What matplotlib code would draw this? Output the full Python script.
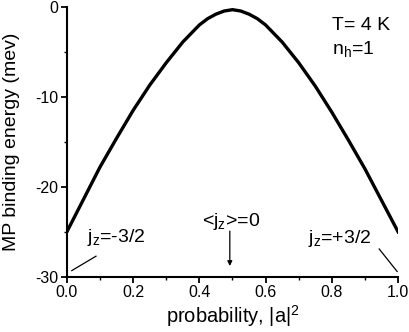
import numpy as np
import matplotlib
matplotlib.use("Agg")
import matplotlib.pyplot as plt
from matplotlib.ticker import MultipleLocator, FormatStrFormatter

plt.rcParams['font.family'] = ['Liberation Sans', 'DejaVu Sans']
plt.rcParams['axes.unicode_minus'] = False

# values
prob = [0.0, 0.05, 0.1, 0.15, 0.2, 0.25, 0.3, 0.35, 0.4, 0.425, 0.45, 0.475, 0.5,
        0.525, 0.55, 0.575, 0.6, 0.65, 0.7, 0.75, 0.8, 0.85, 0.9, 0.95, 1.0]
energy = [-25.0, -21.4, -17.8, -14.6, -11.5, -8.7, -6.2, -3.9, -2.0, -1.3, -0.8, -0.45, -0.3,
          -0.45, -0.8, -1.3, -2.0, -3.9, -6.2, -8.8, -11.7, -14.8, -18.0, -21.5, -25.0]

fig = plt.figure(figsize=(4.10, 3.32), dpi=100)
ax = fig.add_axes([0.163, 0.166, 0.808, 0.813])

ax.plot(prob, energy, color='black', lw=2.4, solid_joinstyle='round')

ax.set_xlim(0, 1)
ax.set_ylim(-30, 0)
ax.xaxis.set_major_locator(MultipleLocator(0.2))
ax.xaxis.set_minor_locator(MultipleLocator(0.1))
ax.yaxis.set_major_locator(MultipleLocator(10))
ax.yaxis.set_minor_locator(MultipleLocator(5))
ax.xaxis.set_major_formatter(FormatStrFormatter('%.1f'))

for s in ['top', 'right']:
    ax.spines[s].set_visible(False)
for s in ['left', 'bottom']:
    ax.spines[s].set_linewidth(1.5)
ax.tick_params(which='major', direction='out', length=4, width=1.3, labelsize=11.5, pad=2)
ax.tick_params(which='minor', direction='out', length=2.5, width=1.0)

ax.set_xlabel('probability, |a|$^\\mathregular{2}$', fontsize=14.5, labelpad=2)
ax.set_ylabel('MP binding energy (mev)', fontsize=14)
ax.yaxis.set_label_coords(-0.14, 0.5)

ax.text(0.80, -2.55, 'T= 4 K', fontsize=14, va='baseline')
ax.text(0.80, -5.33, 'n$_\\mathregular{h}$=1', fontsize=14, va='baseline')

ax.text(0.06, -26.1, 'j$_\\mathregular{z}$=-3/2', fontsize=14, va='baseline')
ax.plot([0.015, 0.088], [-29.3, -27.7], color='black', lw=0.9)

ax.text(0.495, -24.3, '<j$_\\mathregular{z}$>=0', fontsize=14, va='baseline', ha='center')
ax.annotate('', xy=(0.492, -29.1), xytext=(0.492, -24.6),
            arrowprops=dict(arrowstyle='-|>', color='black', lw=0.9, mutation_scale=7))

ax.text(0.728, -26.2, 'j$_\\mathregular{z}$=+3/2', fontsize=14, va='baseline')
ax.plot([0.943, 0.997], [-26.9, -29.4], color='black', lw=0.9)

fig.savefig('out.png', dpi=100)
